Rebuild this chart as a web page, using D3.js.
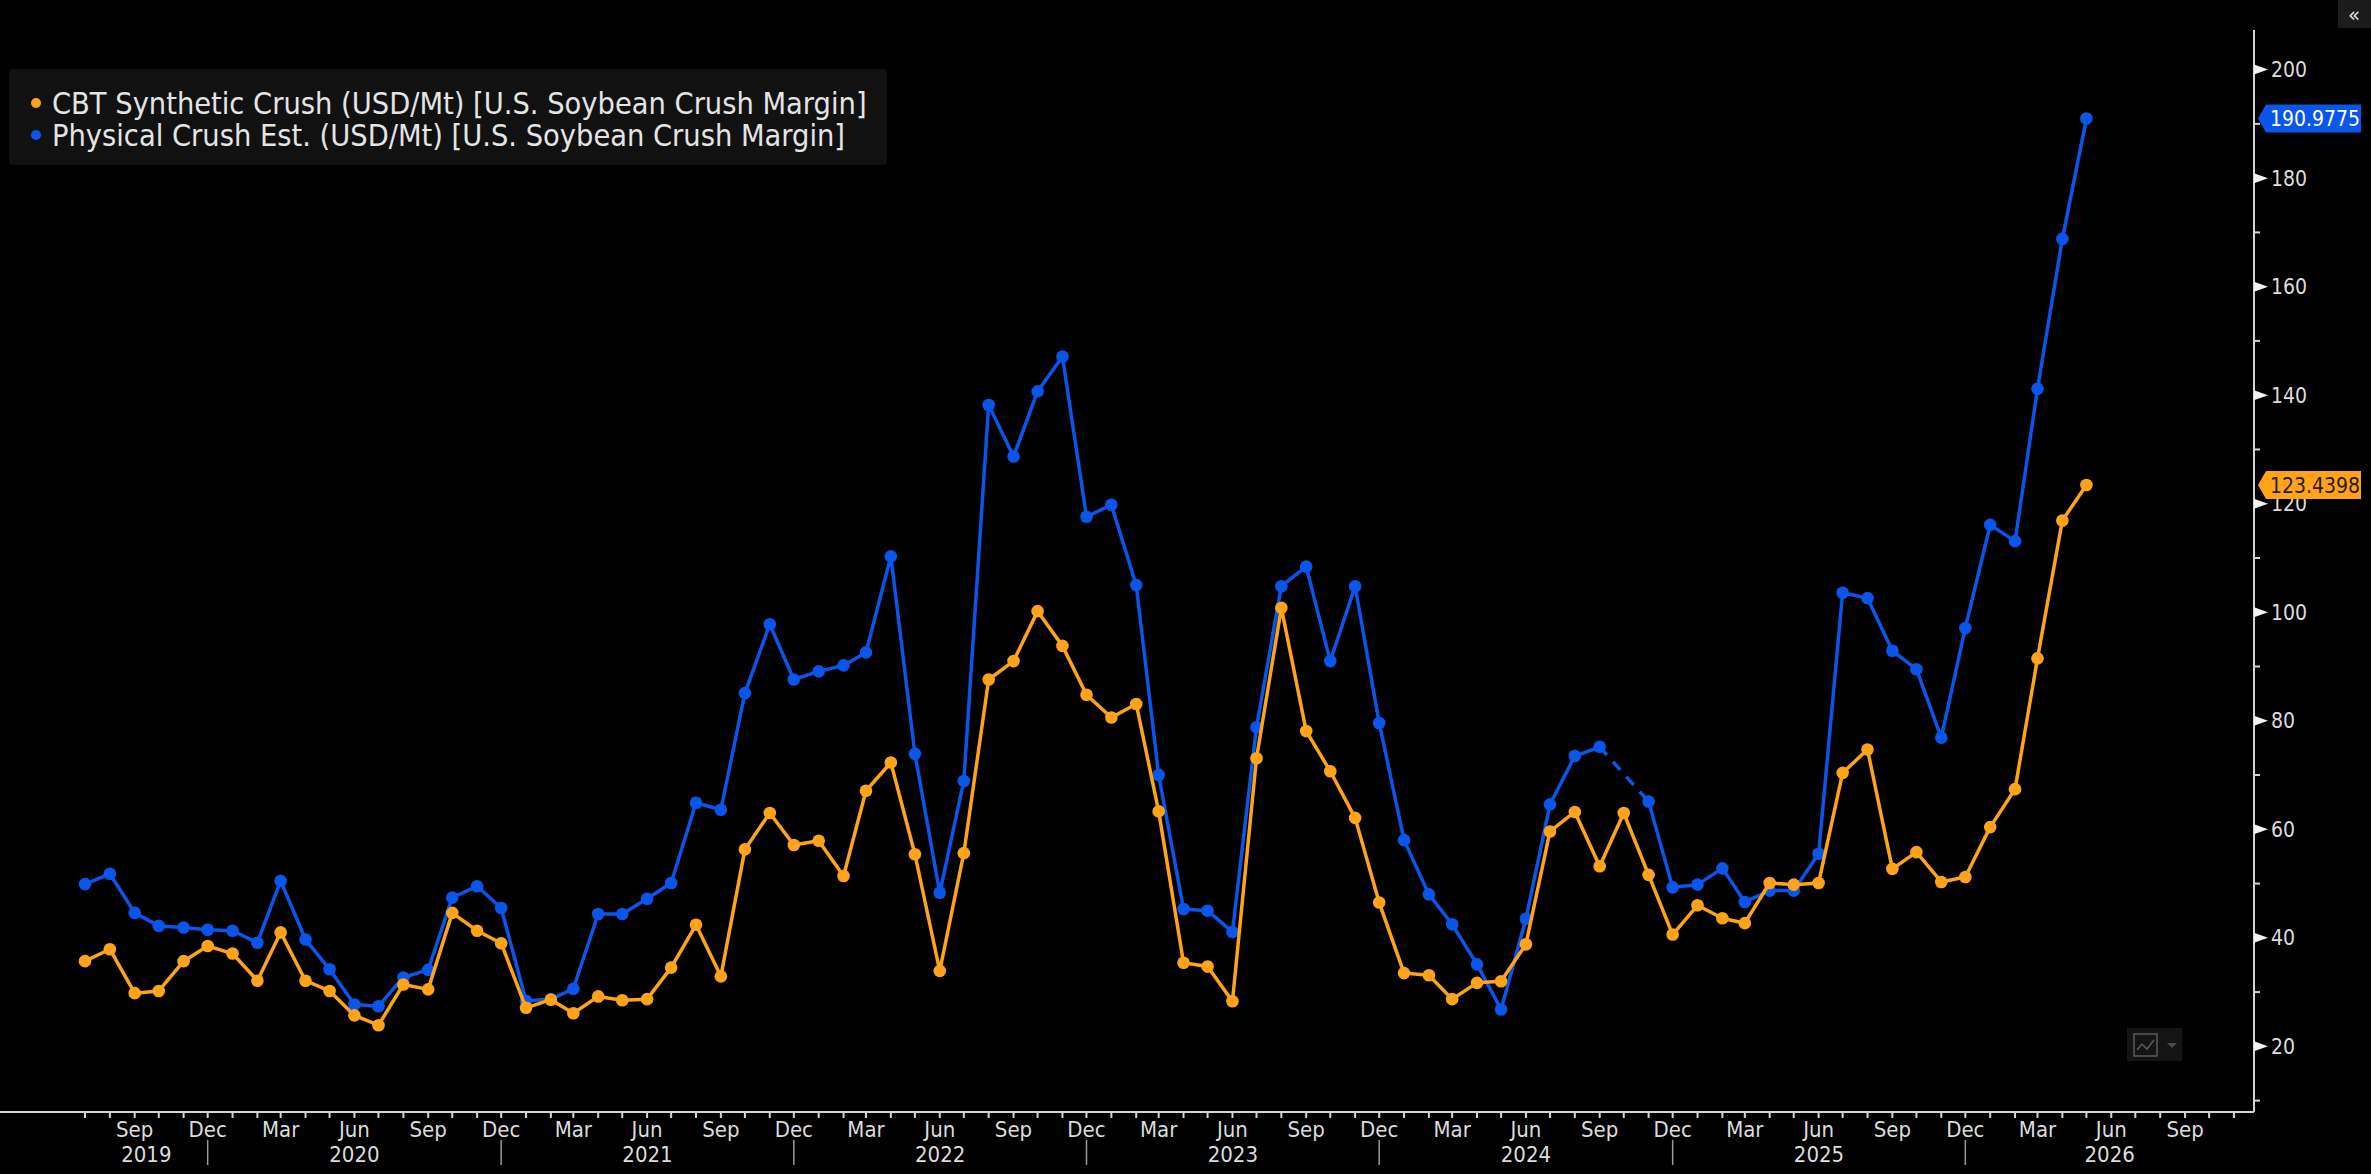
<!DOCTYPE html>
<html lang="en">
<head>
<meta charset="UTF-8">
<title>U.S. Soybean Crush Margin</title>
<script src="https://d3js.org/d3.v7.min.js"></script>
<style>
  html, body { margin: 0; padding: 0; background: #000; }
  #chart { width: 2371px; height: 1174px; }
  text { font-family: "DejaVu Sans Condensed", "DejaVu Sans", sans-serif; }
</style>
</head>
<body>
<div id="chart"></div>
<script>
// monthly observations, Jul 2019 .. May 2026
const months = d3.timeMonth.range(new Date(2019, 6, 1), new Date(2026, 5, 1));

const cbtSynthetic = [
  35.7, 37.9, 29.8, 30.2, 35.7, 38.5,                       // 2019 Jul-Dec
  37.1, 32.1, 41.0, 32.1, 30.2, 25.7, 23.9, 31.4, 30.5, 44.6, 41.3, 39.0, // 2020
  27.1, 28.6, 26.1, 29.2, 28.5, 28.7, 34.5, 42.4, 32.9, 56.3, 63.0, 57.1, // 2021
  57.9, 51.4, 67.1, 72.3, 55.4, 33.9, 55.6, 87.6, 91.0, 100.2, 93.8, 84.8, // 2022
  80.6, 83.1, 63.3, 35.4, 34.7, 28.3, 73.1, 100.8, 78.1, 70.7, 62.1, 46.5, // 2023
  33.5, 33.1, 28.7, 31.7, 32.0, 38.8, 59.6, 63.2, 53.2, 63.0, 51.6, 40.6, // 2024
  46.0, 43.6, 42.7, 50.1, 49.8, 50.1, 70.4, 74.7, 52.7, 55.8, 50.3, 51.2, // 2025
  60.4, 67.4, 91.5, 116.9, 123.4398                          // 2026 Jan-May
];

const physicalEst = [
  49.9, 51.8, 44.6, 42.2, 41.9, 41.5,
  41.3, 39.1, 50.5, 39.7, 34.2, 27.7, 27.4, 32.7, 34.1, 47.4, 49.5, 45.5,
  28.4, 28.7, 30.6, 44.4, 44.4, 47.2, 50.1, 64.9, 63.6, 85.1, 97.8, 87.6,
  89.1, 90.2, 92.6, 110.3, 73.9, 48.3, 68.9, 138.2, 128.7, 140.7, 147.1, 117.6,
  119.8, 105.0, 70.0, 45.3, 45.0, 41.1, 78.8, 104.8, 108.4, 91.0, 104.8, 79.6,
  58.0, 48.0, 42.5, 35.1, 26.8, 43.5, 64.6, 73.5, 75.2, null, 65.1, 49.3,
  49.8, 52.8, 46.6, 48.7, 48.7, 55.5, 103.6, 102.6, 92.9, 89.5, 76.9, 97.1,
  116.1, 113.1, 141.2, 168.8, 190.9775
];

const seriesNames = [
  "CBT Synthetic Crush (USD/Mt) [U.S. Soybean Crush Margin]",
  "Physical Crush Est. (USD/Mt) [U.S. Soybean Crush Margin]"
];
const seriesColors = ["#ffa31a", "#0a55ea"];
const lastLabels = ["123.4398", "190.9775"];
const monthLabels = { 2: "Mar", 5: "Jun", 8: "Sep", 11: "Dec" };

const W = 2371, H = 1174;
const axisX = 2254, axisY = 1112, axisTop = 30;

const svg = d3.select("#chart").append("svg")
  .attr("width", W).attr("height", H)
  .style("background", "#000");

const x = d3.scaleTime()
  .domain([new Date(2019, 2, 17), new Date(2026, 10, 26)])
  .range([0, axisX]);

const y = d3.scaleLinear()
  .domain([7.9, 207.3])
  .range([axisY, axisTop]);

// ---- x axis
svg.append("line")
  .attr("x1", 0).attr("x2", axisX).attr("y1", axisY).attr("y2", axisY)
  .attr("stroke", "#d4d4d4").attr("stroke-width", 2);

// ticks start with the first observation
const tickMonths = d3.timeMonth.range(months[0], x.domain()[1]);
svg.append("g").selectAll("line")
  .data(tickMonths)
  .join("line")
  .attr("x1", d => x(d)).attr("x2", d => x(d))
  .attr("y1", axisY).attr("y2", axisY + 6)
  .attr("stroke", "#d4d4d4").attr("stroke-width", 2);

svg.append("g").selectAll("text")
  .data(tickMonths.filter(d => monthLabels[d.getMonth()]))
  .join("text")
  .attr("x", d => x(d))
  .attr("y", 1137)
  .attr("text-anchor", "middle")
  .attr("fill", "#dcdcdc")
  .attr("font-size", 22)
  .text(d => monthLabels[d.getMonth()]);

// year separators sit on the December ticks
const decs = tickMonths.filter(d => d.getMonth() === 11);
svg.append("g").selectAll("line")
  .data(decs)
  .join("line")
  .attr("x1", d => x(d)).attr("x2", d => x(d))
  .attr("y1", 1140).attr("y2", 1165)
  .attr("stroke", "#9a9a9a").attr("stroke-width", 1.5);

const years = d3.range(2019, 2027);
svg.append("g").selectAll("text")
  .data(years)
  .join("text")
  .attr("x", yr => {
    const a = Math.max(x(new Date(yr - 1, 11, 1)), x(months[0]));
    const b = Math.min(x(new Date(yr, 11, 1)), axisX);
    return (a + b) / 2;
  })
  .attr("y", 1162)
  .attr("text-anchor", "middle")
  .attr("fill", "#dcdcdc")
  .attr("font-size", 22)
  .text(yr => yr);

// ---- right y axis
svg.append("line")
  .attr("x1", axisX).attr("x2", axisX).attr("y1", axisTop).attr("y2", axisY)
  .attr("stroke", "#d4d4d4").attr("stroke-width", 2);

const yTicks = d3.range(10, 201, 10);
const majors = yTicks.filter(v => v % 20 === 0);
const minors = yTicks.filter(v => v % 20 !== 0);

svg.append("g").selectAll("line")
  .data(minors)
  .join("line")
  .attr("x1", axisX).attr("x2", axisX + 6)
  .attr("y1", d => y(d)).attr("y2", d => y(d))
  .attr("stroke", "#d4d4d4").attr("stroke-width", 2);

svg.append("g").selectAll("path")
  .data(majors)
  .join("path")
  .attr("d", d => `M${axisX},${y(d) - 5}L${axisX + 14},${y(d)}L${axisX},${y(d) + 5}Z`)
  .attr("fill", "#f2f2f2");

svg.append("g").selectAll("text")
  .data(majors)
  .join("text")
  .attr("x", axisX + 17)
  .attr("y", d => y(d))
  .attr("dy", "0.36em")
  .attr("fill", "#dcdcdc")
  .attr("font-size", 21)
  .text(d => d);

// ---- series
const seriesData = [cbtSynthetic, physicalEst].map((vals, k) => ({
  k,
  color: seriesColors[k],
  pts: vals.map((v, i) => ({ date: months[i], value: v }))
}));

const line = d3.line()
  .defined(d => d.value != null)
  .x(d => x(d.date))
  .y(d => y(d.value));

// draw physical first so the CBT series lies on top
const order = [seriesData[1], seriesData[0]];

order.forEach(s => {
  const g = svg.append("g");

  // dashed bridge across missing observations
  const defined = s.pts.filter(d => d.value != null);
  for (let i = 1; i < defined.length; i++) {
    const a = defined[i - 1], b = defined[i];
    if (d3.timeMonth.count(a.date, b.date) > 1) {
      g.append("path")
        .attr("d", d3.line().x(d => x(d.date)).y(d => y(d.value))([a, b]))
        .attr("fill", "none")
        .attr("stroke", s.color)
        .attr("stroke-width", 3.5)
        .attr("stroke-dasharray", "11,9");
    }
  }

  g.append("path")
    .datum(s.pts)
    .attr("d", line)
    .attr("fill", "none")
    .attr("stroke", s.color)
    .attr("stroke-width", 3.5)
    .attr("stroke-linejoin", "round");

  g.selectAll("circle")
    .data(defined)
    .join("circle")
    .attr("cx", d => x(d.date))
    .attr("cy", d => y(d.value))
    .attr("r", 6.3)
    .attr("fill", s.color);
});

// ---- last value tags
seriesData.forEach(s => {
  const last = s.pts[s.pts.length - 1];
  const ty = y(last.value);
  const tag = svg.append("g");
  tag.append("path")
    .attr("d", `M${axisX + 4},${ty}L${axisX + 12},${ty - 14}L${axisX + 107},${ty - 14}L${axisX + 107},${ty + 14}L${axisX + 12},${ty + 14}Z`)
    .attr("fill", s.color);
  tag.append("text")
    .attr("x", axisX + 16)
    .attr("y", ty)
    .attr("dy", "0.36em")
    .attr("font-size", 21)
    .attr("fill", s.k === 0 ? "#2a1a00" : "#ffffff")
    .text(lastLabels[s.k]);
});

// ---- legend
const legend = svg.append("g");
legend.append("rect")
  .attr("x", 9).attr("y", 69).attr("width", 878).attr("height", 96)
  .attr("rx", 4)
  .attr("fill", "#111111");

seriesNames.forEach((name, k) => {
  const ly = 103 + k * 32;
  legend.append("circle")
    .attr("cx", 36).attr("cy", ly).attr("r", 5)
    .attr("fill", seriesColors[k]);
  const t = legend.append("text")
    .attr("x", 52).attr("y", ly)
    .attr("dy", "0.36em")
    .attr("fill", "#e4e4e4")
    .attr("font-size", 26)
    .text(name);
  // fit the first line to its measured width in the reference
  if (k === 0) {
    const w = t.node().getComputedTextLength();
    const fs = 26 * 815 / w;
    legend.selectAll("text").attr("font-size", fs);
  } else {
    t.attr("font-size", legend.select("text").attr("font-size"));
  }
});

// ---- chrome: collapse button and chart-type icon
svg.append("rect")
  .attr("x", 2338).attr("y", 0).attr("width", 33).attr("height", 28)
  .attr("fill", "#1c1c1c");
svg.append("text")
  .attr("x", 2354).attr("y", 14).attr("dy", "0.36em")
  .attr("text-anchor", "middle")
  .attr("fill", "#e0e0e0").attr("font-size", 22)
  .text("«");

const icon = svg.append("g");
icon.append("rect")
  .attr("x", 2127).attr("y", 1028).attr("width", 55).attr("height", 33)
  .attr("fill", "#141414");
icon.append("rect")
  .attr("x", 2134).attr("y", 1034).attr("width", 23).attr("height", 22)
  .attr("fill", "none").attr("stroke", "#5a5a5a").attr("stroke-width", 1.5);
icon.append("path")
  .attr("d", "M2137,1050L2142,1044L2147,1049L2154,1040")
  .attr("fill", "none").attr("stroke", "#5a5a5a").attr("stroke-width", 1.5);
icon.append("path")
  .attr("d", "M2167,1043L2177,1043L2172,1048Z")
  .attr("fill", "#4a4a4a");
</script>
</body>
</html>
